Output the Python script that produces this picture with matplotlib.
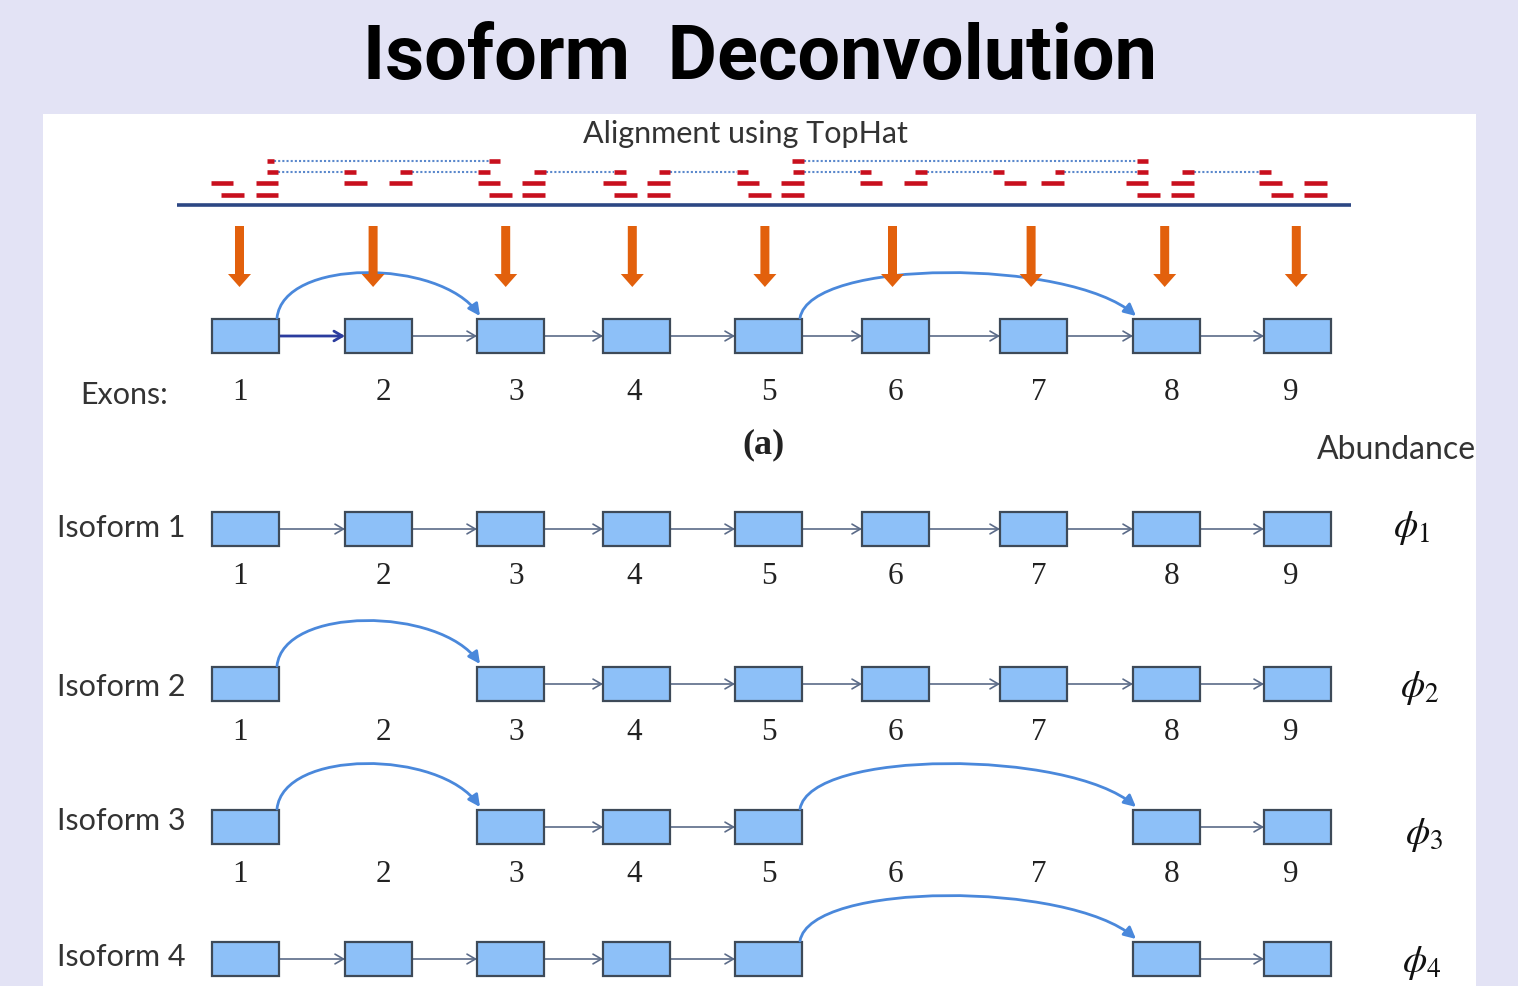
import matplotlib
matplotlib.use("Agg")
import matplotlib.pyplot as plt
from matplotlib.patches import Rectangle, FancyArrowPatch
from matplotlib.path import Path

plt.rcParams["mathtext.fontset"] = "stix"

# ---------------------------------------------------------------- data
exon_ids = [1, 2, 3, 4, 5, 6, 7, 8, 9]
exon_left = [212, 345, 477, 603, 735, 862, 1000, 1133, 1264]
# small horizontal nudges of the exon numbers relative to the box centres
exon_label_shift = [-5, 5, 6, -2, 0, 0, 5, 5, -7]

# splice graph: skipping junctions (from exon, to exon)
graph_skips = [(1, 3), (5, 8)]

isoform_names = ["Isoform 1", "Isoform 2", "Isoform 3", "Isoform 4"]
isoform_exons = [
    [1, 2, 3, 4, 5, 6, 7, 8, 9],
    [1, 3, 4, 5, 6, 7, 8, 9],
    [1, 3, 4, 5, 8, 9],
    [1, 2, 3, 4, 5, 8, 9],
]
abundance_labels = [r"$\phi_1$", r"$\phi_2$", r"$\phi_3$", r"$\phi_4$"]

# aligned reads (genome position, same scale as the exons), one list per stack level
read_pieces = [
    [(267, 274), (489, 500), (792, 804), (1137, 1148)],
    [(267, 278), (344, 356), (400, 412), (478, 490), (534, 546), (614, 626),
     (659, 670), (737, 748), (793, 804), (860, 871), (915, 927), (993, 1004),
     (1055, 1064), (1137, 1148), (1182, 1194), (1259, 1271)],
    [(211, 233), (256, 278), (344, 367), (389, 412), (478, 500), (522, 545),
     (603, 626), (647, 670), (737, 759), (781, 804), (860, 882), (904, 927),
     (1004, 1026), (1041, 1064), (1126, 1148), (1171, 1194), (1259, 1282),
     (1304, 1327)],
    [(221, 244), (256, 278), (489, 512), (522, 545), (614, 637), (647, 670),
     (748, 771), (781, 804), (1137, 1160), (1171, 1194), (1271, 1293),
     (1304, 1327)],
]
# gapped parts of split reads
read_gaps = [
    [(274, 489), (804, 1137)],
    [(278, 344), (412, 478), (546, 614), (670, 737), (804, 860), (927, 993),
     (1064, 1137), (1194, 1259)],
    [],
    [],
]

# ---------------------------------------------------------------- style
W, H = 1518, 987
BG = "#E3E3F5"
BOX_FACE = "#8DC0F8"
BOX_EDGE = "#3E4A58"
LINK = "#5B6B88"
ARC = "#4A88DB"
ORANGE = "#E2600C"
RED = "#C8101E"
DOT = "#5A88CC"
TXT = "#333333"

EXON_W, EXON_H = 67, 34
graph_top = 320
iso_tops = [513, 668, 811, 943]
iso_label_y = [528, 687, 821, 957]
iso_number_y = [577, 733, 875, None]
phi_x = [1393, 1400, 1405, 1402]
phi_dy = [-2, 3, 7, 3]
read_levels = [161.5, 172.5, 184, 195.5]

fig = plt.figure(figsize=(W / 100, H / 100), dpi=100)
fig.patch.set_facecolor(BG)
ax = fig.add_axes([0, 0, 1, 1])
ax.set_xlim(0, W)
ax.set_ylim(H, 0)
ax.axis("off")

# white content panel
ax.add_patch(Rectangle((43, 115), 1433, H - 115, facecolor="white",
                       edgecolor="none", zorder=0))

ax.text(760, 59, "Isoform  Deconvolution", ha="center", va="center",
        fontsize=54.5, fontweight="bold", family="Roboto", color="black")

ax.text(745, 134, "Alignment using TopHat", ha="center", va="center",
        fontsize=22, family="Lato", color=TXT)


def exon_x(e):
    return exon_left[e - 1]


def draw_arc(a, b, top):
    x0 = exon_x(a) + EXON_W - 2
    x1 = exon_x(b) + 3
    y0 = top - 1
    L = x1 - x0
    h = 45
    verts = [(x0, y0), (x0 + 0.03 * L, y0 - 1.33 * h),
             (x0 + 0.8 * L, y0 - 1.33 * h), (x1, y0 - 2)]
    codes = [Path.MOVETO, Path.CURVE4, Path.CURVE4, Path.CURVE4]
    ax.add_patch(FancyArrowPatch(path=Path(verts, codes),
                                 arrowstyle="-|>,head_length=0.7,head_width=0.35",
                                 mutation_scale=10, color=ARC, lw=2.0, zorder=4))


def draw_row(top, exons, skips=(), first_link_dark=False):
    yc = top + EXON_H / 2
    for e in exons:
        ax.add_patch(Rectangle((exon_x(e), top), EXON_W, EXON_H,
                               facecolor=BOX_FACE, edgecolor=BOX_EDGE,
                               lw=1.6, zorder=3))
    for a, b in zip(exons[:-1], exons[1:]):
        if b == a + 1:
            dark = first_link_dark and a == exons[0]
            ax.annotate("", xy=(exon_x(b), yc), xytext=(exon_x(a) + EXON_W, yc),
                        arrowprops=dict(arrowstyle="->,head_length=0.6,head_width=0.35",
                                        color="#2B3C9E" if dark else LINK,
                                        lw=2.0 if dark else 1.2,
                                        shrinkA=0, shrinkB=0),
                        zorder=2)
        else:
            draw_arc(a, b, top)
    for a, b in skips:
        draw_arc(a, b, top)


# ---- reads on the genome
ax.plot([177, 1351], [206, 206], color="#2C4784", lw=2.6, solid_capstyle="butt")
for level, pieces in enumerate(read_pieces):
    y = read_levels[level]
    for s, e in read_gaps[level]:
        ax.plot([s, e], [y, y], color=DOT, lw=1.5, linestyle=(0, (1, 1)))
    for s, e in pieces:
        ax.plot([s, e], [y, y], color=RED, lw=3.3, solid_capstyle="butt")

# ---- orange arrows from reads to exons
for e in exon_ids:
    xc = exon_x(e) + EXON_W / 2 - 6 + (e - 1) * 0.6
    ax.arrow(xc, 227, 0, 61, width=9, head_width=23, head_length=13,
             length_includes_head=True, color=ORANGE, lw=0, zorder=5)

# ---- splice graph
draw_row(graph_top, exon_ids, skips=graph_skips, first_link_dark=True)
ax.text(80, 395, "Exons:", ha="left", va="center", fontsize=22, family="Lato",
        color=TXT)
for e, dx in zip(exon_ids, exon_label_shift):
    ax.text(exon_x(e) + EXON_W / 2 + dx, 393, str(e), ha="center", va="center",
            fontsize=22.5, family="Liberation Serif", color="#222222")
ax.text(763, 445, "(a)", ha="center", va="center", fontsize=26,
        fontweight="bold", family="Liberation Serif", color="#222222")
ax.text(1317, 450, "Abundance", ha="left", va="center", fontsize=23,
        family="Lato", color=TXT)

# ---- isoforms
for i, (name, exons) in enumerate(zip(isoform_names, isoform_exons)):
    top = iso_tops[i]
    draw_row(top, exons)
    ax.text(57, iso_label_y[i], name, ha="left", va="center", fontsize=22,
            family="Lato", color=TXT)
    ax.text(phi_x[i], top + EXON_H / 2 + phi_dy[i], abundance_labels[i],
            ha="left", va="center", fontsize=28, color="#111111")
    if iso_number_y[i] is not None:
        for e, dx in zip(exon_ids, exon_label_shift):
            ax.text(exon_x(e) + EXON_W / 2 + dx, iso_number_y[i], str(e),
                    ha="center", va="center", fontsize=22.5,
                    family="Liberation Serif", color="#222222")

fig.savefig("out.png", dpi=100, facecolor=BG)
